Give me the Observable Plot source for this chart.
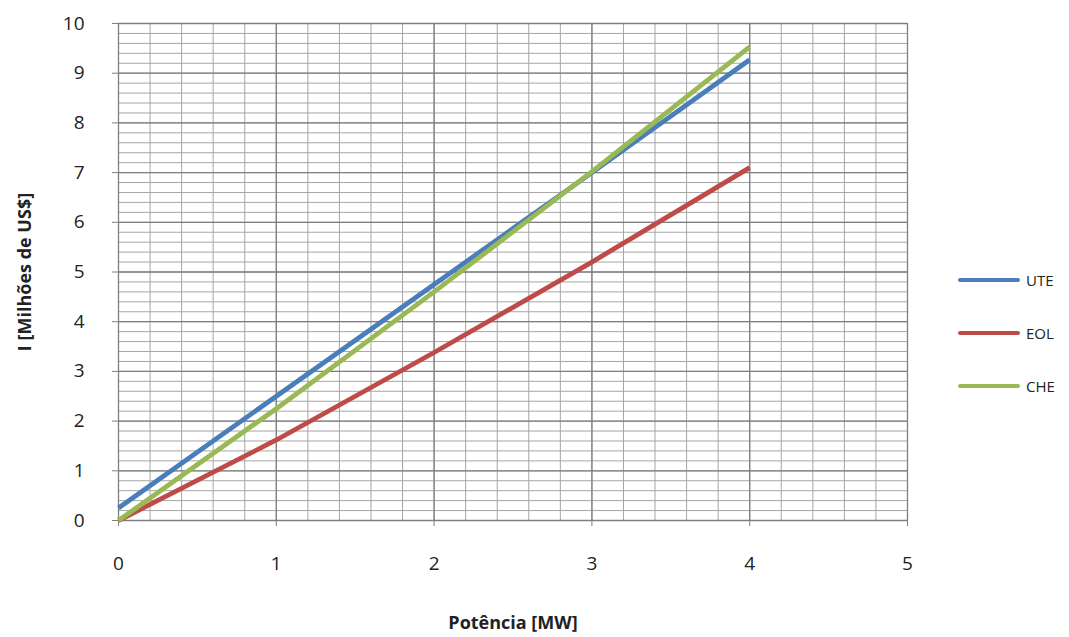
<!DOCTYPE html>
<html>
<head>
<meta charset="utf-8">
<script src="https://cdn.jsdelivr.net/npm/d3@7"></script>
<script src="https://cdn.jsdelivr.net/npm/@observablehq/plot@0.6"></script>
<style>
  html, body { margin: 0; padding: 0; background: #fff; }
  #wrap { position: relative; width: 1069px; height: 637px; font-family: "Open Sans", sans-serif; }
  .legend { position: absolute; left: 958px; font-size: 15px; color: #222; display: flex; align-items: center; }
  .legend span.sw { display: inline-block; width: 62px; height: 4px; margin-right: 6px; border-radius: 2px; }
</style>
</head>
<body>
<div id="wrap"></div>
<script>
// Data
const potencia = [0, 1, 2, 3, 4];
const ute = [0.25, 2.5, 4.75, 7.0, 9.27];
const eol = [0.0, 1.62, 3.38, 5.2, 7.1];
const che = [0.0, 2.25, 4.6, 7.02, 9.53];
const seriesNames = ["UTE", "EOL", "CHE"];
const seriesColors = ["#4a7ebb", "#be4b48", "#98b954"];
const xTicks = [0, 1, 2, 3, 4, 5];
const yTicks = [0, 1, 2, 3, 4, 5, 6, 7, 8, 9, 10];

const values = { UTE: ute, EOL: eol, CHE: che };
const rows = seriesNames.flatMap(s => potencia.map((p, i) => ({ serie: s, x: p, y: values[s][i] })));

const minorX = d3.range(0, 5.0001, 0.2);
const minorY = d3.range(0, 10.0001, 0.2);

const chart = Plot.plot({
  width: 1069,
  height: 637,
  marginLeft: 118,
  marginRight: 162,
  marginTop: 23,
  marginBottom: 117,
  style: { fontFamily: "Open Sans, sans-serif", fontSize: "19px", color: "#222", background: "#fff" },
  x: { domain: [0, 5] },
  y: { domain: [0, 10] },
  color: { domain: seriesNames, range: seriesColors },
  marks: [
    Plot.ruleX(minorX, { stroke: "#a6a6a6", strokeWidth: 1 }),
    Plot.ruleY(minorY, { stroke: "#a6a6a6", strokeWidth: 1 }),
    Plot.ruleX(xTicks, { stroke: "#7f7f7f", strokeWidth: 1.3 }),
    Plot.ruleY(yTicks, { stroke: "#7f7f7f", strokeWidth: 1.3 }),
    Plot.axisX({ ticks: xTicks, tickFormat: d3.format("d"), tickSize: 6, tickPadding: 30, stroke: "#7f7f7f",
      label: "Potência [MW]", labelAnchor: "center", labelArrow: "none", labelOffset: 108 }),
    Plot.axisY({ ticks: yTicks, tickFormat: d3.format("d"), tickSize: 6, tickPadding: 28, stroke: "#7f7f7f",
      label: "I [Milhões de US$]", labelAnchor: "center", labelArrow: "none", labelOffset: 100 }),
    Plot.line(rows, { x: "x", y: "y", z: "serie", stroke: "serie", strokeWidth: 4.8, strokeLinecap: "butt" })
  ]
});

// bold axis titles
chart.querySelectorAll("g[aria-label='x-axis label'] text, g[aria-label='y-axis label'] text").forEach(t => {
  t.style.fontWeight = "bold";
  t.style.fontSize = "18px";
});

const wrap = document.getElementById("wrap");
wrap.appendChild(chart);

const legendY = [281, 334, 387];
seriesNames.forEach((s, i) => {
  const d = document.createElement("div");
  d.className = "legend";
  d.style.top = (legendY[i] - 11) + "px";
  d.innerHTML = `<span class="sw" style="background:${seriesColors[i]}"></span>${s}`;
  wrap.appendChild(d);
});
</script>
</body>
</html>
